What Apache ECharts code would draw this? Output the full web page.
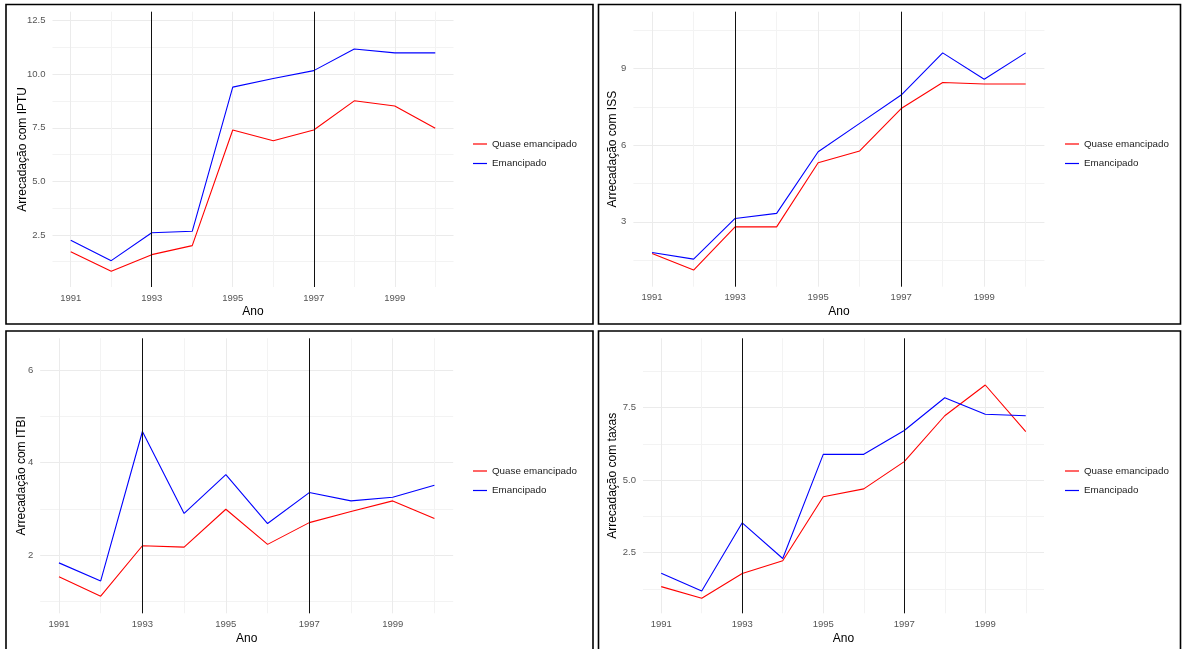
<!DOCTYPE html>
<html><head><meta charset="utf-8">
<script src="https://cdn.jsdelivr.net/npm/echarts@6/dist/echarts.min.js"></script>
<style>html,body{margin:0;padding:0;background:#fff}#c{width:1184px;height:649px}</style>
</head><body><div id="c"></div>
<script>
// ---- data ----
const years = [1991, 1992, 1993, 1994, 1995, 1996, 1997, 1998, 1999, 2000];
const seriesNames = ['Quase emancipado', 'Emancipado'];

const iptuQuase = [1.72, 0.81, 1.58, 2.00, 7.40, 6.90, 7.40, 8.76, 8.52, 7.48];
const iptuEman  = [2.25, 1.30, 2.60, 2.67, 9.40, 9.80, 10.17, 11.18, 11.00, 11.00];
const issQuase  = [1.76, 1.11, 2.80, 2.80, 5.31, 5.77, 7.43, 8.45, 8.39, 8.39];
const issEman   = [1.80, 1.54, 3.13, 3.33, 5.74, 6.85, 7.96, 9.61, 8.58, 9.61];
const itbiQuase = [1.53, 1.11, 2.20, 2.17, 2.99, 2.23, 2.70, 2.94, 3.17, 2.79];
const itbiEman  = [1.83, 1.44, 4.67, 2.90, 3.74, 2.68, 3.35, 3.17, 3.25, 3.51];
const taxasQuase = [1.33, 0.93, 1.78, 2.22, 4.43, 4.70, 5.64, 7.22, 8.28, 6.67];
const taxasEman  = [1.79, 1.18, 3.53, 2.30, 5.89, 5.89, 6.71, 7.84, 7.27, 7.22];

const xTicks = [1991, 1993, 1995, 1997, 1999];
const xMinor = [1992, 1994, 1996, 1998, 2000];
const vLines = [1993, 1997];

const iptuTicks = [2.5, 5, 7.5, 10, 12.5];
const iptuMinor = [1.25, 3.75, 6.25, 8.75, 11.25];
const issTicks = [3, 6, 9];
const issMinor = [1.5, 4.5, 7.5, 10.5];
const itbiTicks = [2, 4, 6];
const itbiMinor = [1, 3, 5];
const taxasTicks = [2.5, 5, 7.5];
const taxasMinor = [1.25, 3.75, 6.25, 8.75];

// ---- layout ----
const FONT = '"Liberation Sans", Arial, sans-serif';
const panels = [
  {title: 'Arrecadação com IPTU', q: iptuQuase, e: iptuEman, ticks: iptuTicks, minor: iptuMinor,
   ymin: 0.07, ymax: 12.92, dec: 1, grid: {left: 52.5, top: 11.7, width: 401, height: 275.3}, nameGap: 24,
   legend: {left: 473, top: 138}, box: {x: 6, y: 4.5, width: 587, height: 319.5}},
  {title: 'Arrecadação com ISS', q: issQuase, e: issEman, ticks: issTicks, minor: issMinor,
   ymin: 0.46, ymax: 11.22, dec: 0, grid: {left: 633.4, top: 11.7, width: 411, height: 275}, nameGap: 14.5,
   legend: {left: 1065, top: 138}, box: {x: 598.5, y: 4.5, width: 582, height: 319.5}},
  {title: 'Arrecadação com ITBI', q: itbiQuase, e: itbiEman, ticks: itbiTicks, minor: itbiMinor,
   ymin: 0.74, ymax: 6.685, dec: 0, grid: {left: 40.2, top: 338.3, width: 413, height: 275}, nameGap: 12.5,
   legend: {left: 473, top: 465}, box: {x: 6, y: 331, width: 587, height: 325}},
  {title: 'Arrecadação com taxas', q: taxasQuase, e: taxasEman, ticks: taxasTicks, minor: taxasMinor,
   ymin: 0.41, ymax: 9.89, dec: 1, grid: {left: 643, top: 338.3, width: 401, height: 275}, nameGap: 24.3,
   legend: {left: 1065, top: 465}, box: {x: 598.5, y: 331, width: 582, height: 325}}
];

const XMIN = 1990.55, XMAX = 2000.45;
const major = {color: '#EBEBEB', width: 1};
const minorStyle = {color: '#F3F3F3', width: 1};

const grids = [], xAxes = [], yAxes = [], series = [], legends = [], graphics = [];
panels.forEach((p, i) => {
  grids.push(Object.assign({containLabel: false}, p.grid));
  xAxes.push({
    type: 'value', gridIndex: i, min: XMIN, max: XMAX, position: 'bottom',
    name: 'Ano', nameLocation: 'middle', nameGap: 19, nameMoveOverlap: false,
    nameTextStyle: {fontSize: 12, color: '#000', fontFamily: FONT},
    axisLine: {show: false}, axisTick: {show: false, customValues: xTicks},
    axisLabel: {customValues: xTicks, formatter: v => String(v), fontSize: 9.5, color: '#555', margin: 6, fontFamily: FONT},
    splitLine: {show: true, lineStyle: major}
  });
  xAxes.push({
    type: 'value', gridIndex: i, min: XMIN, max: XMAX, position: 'top',
    axisLine: {show: false}, axisTick: {show: false, customValues: xMinor},
    axisLabel: {show: false, customValues: xMinor}, splitLine: {show: true, lineStyle: minorStyle}
  });
  yAxes.push({
    type: 'value', gridIndex: i, min: p.ymin, max: p.ymax, position: 'left',
    name: p.title, nameLocation: 'middle', nameGap: p.nameGap, nameMoveOverlap: false,
    nameTextStyle: {fontSize: 12, color: '#000', fontFamily: FONT},
    axisLine: {show: false}, axisTick: {show: false, customValues: p.ticks},
    axisLabel: {customValues: p.ticks, formatter: v => v.toFixed(p.dec), fontSize: 9.5, color: '#555', margin: 7, fontFamily: FONT},
    splitLine: {show: true, lineStyle: major}
  });
  yAxes.push({
    type: 'value', gridIndex: i, min: p.ymin, max: p.ymax, position: 'right',
    axisLine: {show: false}, axisTick: {show: false, customValues: p.minor},
    axisLabel: {show: false, customValues: p.minor}, splitLine: {show: true, lineStyle: minorStyle}
  });
  const mk = (name, vals, color, withMark) => {
    const s = {
      type: 'line', name: name, xAxisIndex: 2 * i, yAxisIndex: 2 * i,
      data: years.map((y, k) => [y, vals[k]]),
      symbol: 'none', showSymbol: false, lineStyle: {color: color, width: 1.1}, itemStyle: {color: color},
      animation: false, silent: true
    };
    if (withMark) {
      s.markLine = {
        silent: true, symbol: ['none', 'none'], label: {show: false}, animation: false,
        lineStyle: {color: '#111', width: 1, type: 'solid'},
        emphasis: {disabled: true},
        data: vLines.map(v => ({xAxis: v}))
      };
    }
    return s;
  };
  series.push(mk(seriesNames[0], p.q, '#FF0000', true));
  series.push(mk(seriesNames[1], p.e, '#0000FF', false));
  legends.push({
    orient: 'vertical', left: p.legend.left, top: p.legend.top, padding: 0,
    icon: 'rect', itemWidth: 14, itemHeight: 1.2, itemGap: 7.5, selectedMode: false,
    textStyle: {fontSize: 9.8, lineHeight: 12, color: '#222', fontFamily: FONT},
    data: seriesNames
  });
  graphics.push({
    type: 'rect', shape: p.box, silent: true,
    style: {fill: 'none', stroke: '#000', lineWidth: 1.6}
  });
});

const chart = echarts.init(document.getElementById('c'), null, {renderer: 'canvas'});
chart.setOption({
  backgroundColor: '#fff', animation: false,
  grid: grids, xAxis: xAxes, yAxis: yAxes, series: series, legend: legends,
  graphic: graphics
});
</script></body></html>
